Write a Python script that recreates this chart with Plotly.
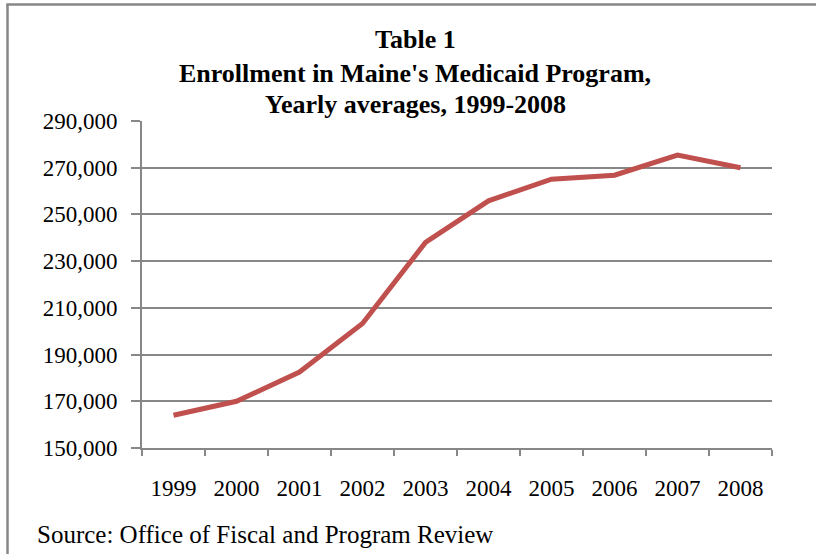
import plotly.graph_objects as go

years = ["1999", "2000", "2001", "2002", "2003", "2004", "2005", "2006", "2007", "2008"]
enrollment = [164000, 170000, 182500, 203300, 238000, 255800, 265100, 266800, 275400, 270000]
title_lines = ["Table 1", "Enrollment in Maine's Medicaid Program,", "Yearly averages, 1999-2008"]
source_text = "Source: Office of Fiscal and Program Review"

W, H = 816, 554
L, R, T, B = 142, 44, 121, 106
pw, ph = W - L - R, H - T - B

def px_x(x):
    return (x - L) / pw

def px_y(y):
    return (H - B - y) / ph

GRAY = "#878787"
FONT = "Liberation Serif"

fig = go.Figure()
fig.add_trace(go.Scatter(
    x=years, y=enrollment, mode="lines",
    line=dict(color="#C0504D", width=5),
    hoverinfo="x+y", showlegend=False,
))

title_y = [40, 73, 104]
annotations = [
    dict(text="<b>%s</b>" % t, xref="paper", yref="paper", x=px_x(415), y=px_y(yy),
         xanchor="center", yanchor="middle", showarrow=False,
         font=dict(family=FONT, size=26, color="black"))
    for t, yy in zip(title_lines, title_y)
]
annotations.append(dict(
    text=source_text,
    xref="paper", yref="paper", x=px_x(35), y=px_y(534),
    xanchor="left", yanchor="middle", showarrow=False,
    font=dict(family=FONT, size=25, color="black"),
))

fig.update_layout(
    width=W, height=H,
    margin=dict(l=L, r=R, t=T, b=B, pad=0),
    paper_bgcolor="white", plot_bgcolor="white",
    font=dict(family=FONT, color="black", size=23),
    xaxis=dict(
        type="category", range=[-0.5, 9.5], tickson="boundaries", ticks="outside", ticklen=6,
        tickcolor=GRAY, tickwidth=1.5, showline=True, linecolor=GRAY, linewidth=2,
        showgrid=False, ticklabelstandoff=18, tickfont=dict(size=23),
    ),
    yaxis=dict(
        range=[150000, 290000], tick0=150000, dtick=20000, tickformat=",", ticks="outside",
        ticklen=9, tickcolor=GRAY, tickwidth=1.5, showline=True, linecolor=GRAY,
        linewidth=2, showgrid=True, gridcolor=GRAY, gridwidth=1.5, zeroline=False,
        ticklabelstandoff=9, tickfont=dict(size=23),
    ),
    annotations=annotations,
    shapes=[
        dict(type="line", xref="paper", yref="paper",
             x0=px_x(7.5), x1=px_x(7.5), y0=px_y(4.5), y1=px_y(560),
             line=dict(color=GRAY, width=2.5)),
        dict(type="line", xref="paper", yref="paper",
             x0=px_x(6.3), x1=px_x(820), y0=px_y(4.5), y1=px_y(4.5),
             line=dict(color=GRAY, width=2.5)),
    ],
)

fig.write_html("out.html")
